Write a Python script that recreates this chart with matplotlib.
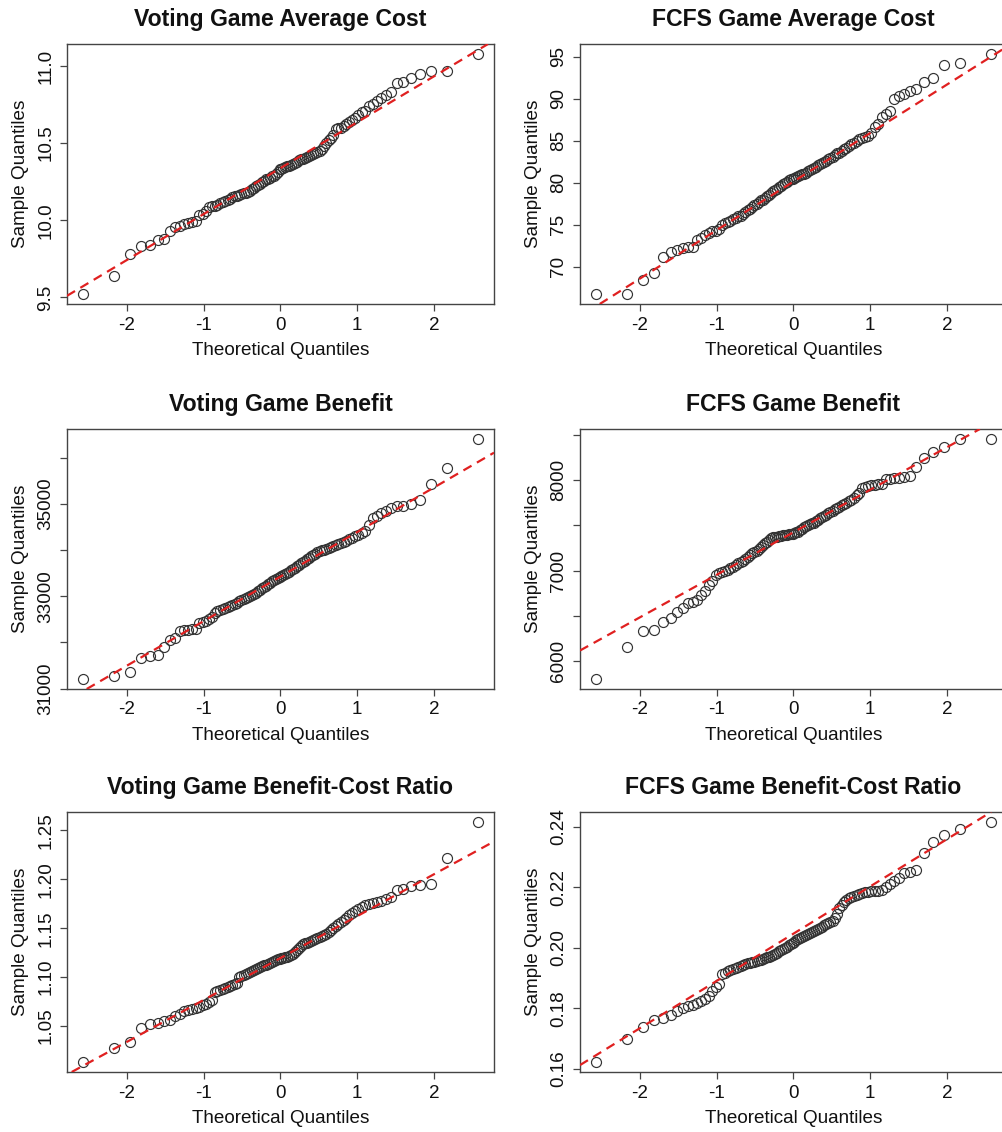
import numpy as np
import matplotlib
matplotlib.use("Agg")
import matplotlib.pyplot as plt
from statistics import NormalDist

# ---------------- data (sorted sample values) ----------------
titles = ["Voting Game Average Cost", "FCFS Game Average Cost",
          "Voting Game Benefit", "FCFS Game Benefit",
          "Voting Game Benefit-Cost Ratio", "FCFS Game Benefit-Cost Ratio"]

voting_cost = [
    9.52, 9.64, 9.78, 9.835, 9.84, 9.875, 9.88, 9.93, 9.955, 9.965,
    9.975, 9.985, 9.99, 9.995, 10.035, 10.04, 10.06, 10.085, 10.09, 10.095,
    10.10, 10.11, 10.12, 10.125, 10.13, 10.14, 10.15, 10.155, 10.16, 10.165,
    10.17, 10.175, 10.18, 10.185, 10.19, 10.20, 10.21, 10.22, 10.23, 10.235,
    10.245, 10.255, 10.265, 10.27, 10.275, 10.285, 10.29, 10.30, 10.31, 10.33,
    10.335, 10.34, 10.345, 10.35, 10.355, 10.36, 10.365, 10.37, 10.38, 10.39,
    10.395, 10.40, 10.405, 10.41, 10.415, 10.42, 10.43, 10.435, 10.44, 10.45,
    10.46, 10.48, 10.50, 10.52, 10.535, 10.55, 10.59, 10.595, 10.60, 10.61,
    10.625, 10.64, 10.65, 10.665, 10.68, 10.70, 10.71, 10.74, 10.755, 10.77,
    10.79, 10.81, 10.83, 10.89, 10.895, 10.925, 10.95, 10.965, 10.97, 11.08]

fcfs_cost = [
    66.7, 66.8, 68.4, 69.2, 71.2, 71.7, 72.0, 72.2, 72.3, 72.4,
    73.2, 73.4, 73.8, 74.0, 74.2, 74.3, 74.5, 75.0, 75.2, 75.3,
    75.5, 75.7, 75.8, 76.0, 76.1, 76.3, 76.5, 76.7, 76.9, 77.1,
    77.3, 77.5, 77.7, 77.9, 78.0, 78.2, 78.4, 78.6, 78.8, 79.0,
    79.2, 79.3, 79.5, 79.6, 79.8, 80.0, 80.1, 80.3, 80.4, 80.5,
    80.6, 80.7, 80.8, 80.9, 81.0, 81.1, 81.2, 81.4, 81.5, 81.6,
    81.8, 81.9, 82.1, 82.2, 82.4, 82.5, 82.6, 82.8, 82.9, 83.1,
    83.3, 83.5, 83.6, 83.8, 84.0, 84.2, 84.4, 84.6, 84.8, 85.0,
    85.2, 85.4, 85.5, 85.6, 85.9, 86.6, 87.0, 87.8, 88.2, 88.6,
    90.0, 90.3, 90.6, 91.0, 91.2, 92.0, 92.5, 94.1, 94.3, 95.4]

voting_benefit = [
    31200, 31280, 31350, 31670, 31710, 31730, 31890, 32060, 32100, 32240,
    32260, 32270, 32280, 32300, 32420, 32440, 32460, 32500, 32540, 32640,
    32680, 32700, 32720, 32740, 32760, 32780, 32800, 32830, 32860, 32890,
    32920, 32950, 32970, 32990, 33010, 33030, 33050, 33080, 33110, 33140,
    33170, 33200, 33230, 33260, 33290, 33320, 33350, 33380, 33400, 33420,
    33440, 33460, 33480, 33500, 33530, 33560, 33590, 33620, 33650, 33680,
    33710, 33740, 33770, 33800, 33830, 33860, 33890, 33920, 33950, 33970,
    33990, 34010, 34030, 34050, 34070, 34090, 34110, 34130, 34150, 34170,
    34200, 34230, 34260, 34300, 34330, 34370, 34420, 34550, 34700, 34740,
    34800, 34850, 34900, 34950, 34960, 35000, 35090, 35430, 35770, 36410]

fcfs_benefit = [
    5800, 6160, 6330, 6345, 6430, 6475, 6545, 6590, 6640, 6655,
    6670, 6730, 6780, 6840, 6890, 6950, 6970, 6985, 7000, 7010,
    7025, 7040, 7060, 7080, 7095, 7110, 7130, 7150, 7170, 7190,
    7205, 7220, 7240, 7260, 7280, 7300, 7320, 7340, 7355, 7365,
    7370, 7375, 7380, 7385, 7390, 7390, 7395, 7400, 7400, 7405,
    7410, 7420, 7430, 7445, 7460, 7475, 7490, 7500, 7510, 7520,
    7530, 7545, 7560, 7575, 7590, 7600, 7615, 7630, 7645, 7660,
    7675, 7690, 7705, 7720, 7735, 7750, 7765, 7780, 7805, 7830,
    7860, 7915, 7925, 7935, 7940, 7945, 7950, 7960, 8010, 8015,
    8020, 8025, 8030, 8045, 8145, 8245, 8310, 8360, 8450, 8455]

voting_ratio = [
    1.013, 1.028, 1.034, 1.048, 1.052, 1.053, 1.055, 1.056, 1.060, 1.062,
    1.065, 1.067, 1.068, 1.069, 1.070, 1.072, 1.073, 1.075, 1.077, 1.085,
    1.086, 1.087, 1.088, 1.089, 1.090, 1.091, 1.092, 1.093, 1.094, 1.100,
    1.101, 1.102, 1.103, 1.104, 1.105, 1.106, 1.107, 1.108, 1.109, 1.110,
    1.111, 1.112, 1.113, 1.114, 1.115, 1.116, 1.117, 1.118, 1.119, 1.119,
    1.120, 1.120, 1.121, 1.121, 1.122, 1.123, 1.124, 1.126, 1.128, 1.130,
    1.132, 1.134, 1.135, 1.135, 1.136, 1.137, 1.138, 1.139, 1.140, 1.141,
    1.142, 1.143, 1.144, 1.146, 1.148, 1.150, 1.152, 1.154, 1.156, 1.158,
    1.161, 1.164, 1.166, 1.168, 1.170, 1.172, 1.174, 1.175, 1.176, 1.177,
    1.178, 1.180, 1.182, 1.189, 1.190, 1.193, 1.194, 1.195, 1.222, 1.259]

fcfs_ratio = [
    0.1621, 0.1698, 0.1739, 0.1760, 0.1768, 0.1778, 0.1790, 0.1800, 0.1806, 0.1812,
    0.1818, 0.1823, 0.1830, 0.1842, 0.1858, 0.1870, 0.1880, 0.1912, 0.1918, 0.1922,
    0.1926, 0.1930, 0.1933, 0.1936, 0.1939, 0.1942, 0.1945, 0.1948, 0.1950, 0.1952,
    0.1954, 0.1956, 0.1958, 0.1960, 0.1962, 0.1965, 0.1968, 0.1971, 0.1974, 0.1977,
    0.1980, 0.1984, 0.1988, 0.1992, 0.1996, 0.2000, 0.2004, 0.2008, 0.2012, 0.2016,
    0.2020, 0.2024, 0.2028, 0.2032, 0.2036, 0.2040, 0.2043, 0.2046, 0.2049, 0.2052,
    0.2055, 0.2058, 0.2062, 0.2066, 0.2070, 0.2074, 0.2078, 0.2082, 0.2086, 0.2090,
    0.2100, 0.2112, 0.2130, 0.2140, 0.2150, 0.2158, 0.2164, 0.2168, 0.2172, 0.2176,
    0.2179, 0.2182, 0.2184, 0.2185, 0.2186, 0.2187, 0.2188, 0.2192, 0.2200, 0.2210,
    0.2220, 0.2229, 0.2248, 0.2252, 0.2256, 0.2314, 0.2350, 0.2372, 0.2394, 0.2417]

x_ticks = [-2, -1, 0, 1, 2]
y_ticks = [
    [9.5, 10.0, 10.5, 11.0],
    [70, 75, 80, 85, 90, 95],
    [31000, 32000, 33000, 34000, 35000, 36000],
    [6000, 6500, 7000, 7500, 8000, 8500],
    [1.05, 1.10, 1.15, 1.20, 1.25],
    [0.16, 0.18, 0.20, 0.22, 0.24],
]
y_tick_labels = [
    ["9.5", "10.0", "10.5", "11.0"],
    ["70", "75", "80", "85", "90", "95"],
    ["31000", "", "33000", "", "35000", ""],
    ["6000", "", "7000", "", "8000", ""],
    ["1.05", "1.10", "1.15", "1.20", "1.25"],
    ["0.16", "0.18", "0.20", "0.22", "0.24"],
]
series = [voting_cost, fcfs_cost, voting_benefit, fcfs_benefit, voting_ratio, fcfs_ratio]

# ---------------- drawing ----------------
plt.rcParams['font.family'] = ['Liberation Sans', 'DejaVu Sans']
W, H = 1003, 1132
fig = plt.figure(figsize=(W / 100, H / 100), dpi=100)

col_left = [67, 580]
row_top = [44, 429, 812]
ax_w, ax_h = 427, 260

nd = NormalDist()
AX_COL = '#444444'

for k, (vals, title) in enumerate(zip(series, titles)):
    r, c = divmod(k, 2)
    left = col_left[c] / W
    bottom = 1 - (row_top[r] + ax_h) / H
    ax = fig.add_axes([left, bottom, ax_w / W, ax_h / H])

    y = np.sort(np.asarray(vals, dtype=float))
    n = len(y)
    theo = np.array([nd.inv_cdf((i - 0.5) / n) for i in range(1, n + 1)])

    ax.plot(theo, y, linestyle='none', marker='o', markersize=7.2,
            markerfacecolor='none', markeredgecolor='#333333', markeredgewidth=0.85,
            zorder=2)
    ax.margins(x=0.04, y=0.04)

    # qqline through the quartiles
    qy = np.quantile(y, [0.25, 0.75])
    qx = np.array([nd.inv_cdf(0.25), nd.inv_cdf(0.75)])
    slope = (qy[1] - qy[0]) / (qx[1] - qx[0])
    icpt = qy[0] - slope * qx[0]
    ax.axline((0, icpt), slope=slope, color='#E02020', linewidth=1.6,
              linestyle=(0, (4.2, 2.8)), zorder=3)

    ax.set_xticks(x_ticks)
    ax.set_xticklabels([str(t) for t in x_ticks])
    ax.set_yticks(y_ticks[k])
    ax.set_yticklabels(y_tick_labels[k], rotation=90, va='center')

    for s in ax.spines.values():
        s.set_color(AX_COL)
        s.set_linewidth(1.0)
    ax.tick_params(direction='out', length=5, width=0.9, color=AX_COL,
                   labelsize=13.6, pad=4, labelcolor='#111111')

    ax.set_title(title, fontsize=16.6, fontweight='bold', pad=13, color='#111111')
    ax.set_xlabel("Theoretical Quantiles", fontsize=13.6, labelpad=6, color='#111111')
    ax.set_ylabel("Sample Quantiles", fontsize=13.6, labelpad=6, color='#111111')

fig.savefig("out.png", dpi=100, facecolor='white')
